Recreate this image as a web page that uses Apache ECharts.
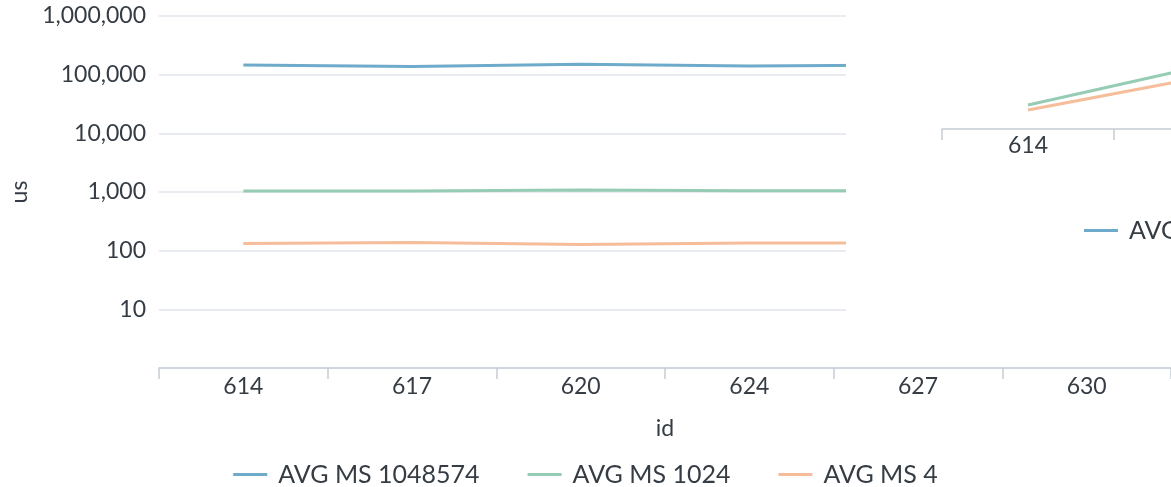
<!DOCTYPE html>
<html>
<head>
<meta charset="utf-8">
<script src="https://cdn.jsdelivr.net/npm/echarts@6/dist/echarts.min.js"></script>
<style>
html, body { margin:0; padding:0; width:1171px; height:487px; overflow:hidden; background:#fff; }
#main { position:absolute; left:0; top:0; width:1171px; height:487px; }
#mini { position:absolute; left:846px; top:0; width:1400px; height:350px; background:#fff; }
</style>
</head>
<body>
<div id="main"></div>
<div id="mini"></div>
<script>
// ---- data ----
const categories = ['614', '617', '620', '624', '627', '630'];
const seriesNames = ['AVG MS 1048574', 'AVG MS 1024', 'AVG MS 4'];
const avgMs1048574 = [146000, 138000, 150000, 140000, 146000, 145000];
const avgMs1024 = [1045, 1035, 1085, 1050, 1050, 1050];
const avgMs4 = [133, 138, 128, 135, 135, 135];
const yTickValues = [10, 100, 1000, 10000, 100000, 1000000];

// second (partially drawn) panel in the top-right corner
const miniCategories = ['614', '617'];
const miniAvgMs1024 = [18.6, 48.4];
const miniAvgMs4 = [14.7, 39.9];

const colors = ['#6eabcb', '#96ccb4', '#f5bd9a'];
const textColor = '#353c44';
const font = 'Lato';

function fmt(v) { return Number(v).toLocaleString('en-US'); }

const legendBase = {
  icon: 'rect', itemWidth: 34, itemHeight: 3, itemGap: 48,
  textStyle: { fontFamily: font, fontSize: 25, color: textColor, padding: [0, 0, 0, 6] },
  data: seriesNames
};

const main = echarts.init(document.getElementById('main'), null, { renderer: 'canvas' });
main.setOption({
  animation: false,
  color: colors,
  textStyle: { fontFamily: font, color: textColor },
  grid: { left: 158, top: 16, width: 1020, height: 352, containLabel: false },
  legend: Object.assign({ left: 'center', top: 457 }, legendBase),
  xAxis: {
    type: 'category', data: categories, boundaryGap: true,
    name: 'id', nameLocation: 'middle', nameGap: 49,
    nameTextStyle: { fontFamily: font, fontSize: 23, color: textColor },
    axisLine: { show: true, lineStyle: { color: '#c6cdd5', width: 1.5 } },
    axisTick: { show: true, length: 11, interval: 0, lineStyle: { color: '#c6cdd5', width: 1.5 } },
    axisLabel: { interval: 0, margin: 7, fontFamily: font, fontSize: 23, color: textColor },
    splitLine: { show: false }
  },
  yAxis: {
    type: 'log', logBase: 10, min: 1, max: 1000000,
    name: 'us', nameLocation: 'middle', nameGap: 128, nameRotate: 90,
    nameTextStyle: { fontFamily: font, fontSize: 23, color: textColor },
    axisLine: { show: false }, axisTick: { show: false },
    axisLabel: {
      margin: 13, fontFamily: font, fontSize: 23, color: textColor, showMinLabel: false,
      formatter: function (v) { return yTickValues.indexOf(Math.round(v)) >= 0 ? fmt(Math.round(v)) : ''; }
    },
    splitLine: { show: true, lineStyle: { color: '#e1e6eb', width: 1.5 } }
  },
  series: [
    { name: seriesNames[0], type: 'line', data: avgMs1048574, symbol: 'none', lineStyle: { width: 3 } },
    { name: seriesNames[1], type: 'line', data: avgMs1024, symbol: 'none', lineStyle: { width: 3 } },
    { name: seriesNames[2], type: 'line', data: avgMs4, symbol: 'none', lineStyle: { width: 3 } }
  ]
});

const mini = echarts.init(document.getElementById('mini'), null, { renderer: 'canvas' });
mini.setOption({
  animation: false,
  color: colors,
  textStyle: { fontFamily: font, color: textColor },
  grid: { left: 96, top: 0, width: 344, height: 129, containLabel: false },
  legend: Object.assign({ left: 233, top: 213, orient: 'horizontal' }, legendBase),
  xAxis: {
    type: 'category', data: miniCategories, boundaryGap: true,
    axisLine: { show: true, lineStyle: { color: '#c6cdd5', width: 1.5 } },
    axisTick: { show: true, length: 11, interval: 0, lineStyle: { color: '#c6cdd5', width: 1.5 } },
    axisLabel: { interval: 0, margin: 5, fontFamily: font, fontSize: 23, color: textColor },
    splitLine: { show: false }
  },
  yAxis: {
    type: 'value', min: 0, max: 100, show: false, splitLine: { show: false }
  },
  series: [
    { name: seriesNames[0], type: 'line', data: [], symbol: 'none', lineStyle: { width: 3 } },
    { name: seriesNames[1], type: 'line', data: miniAvgMs1024, symbol: 'none', lineStyle: { width: 3 } },
    { name: seriesNames[2], type: 'line', data: miniAvgMs4, symbol: 'none', lineStyle: { width: 3 } }
  ]
});
</script>
</body>
</html>
